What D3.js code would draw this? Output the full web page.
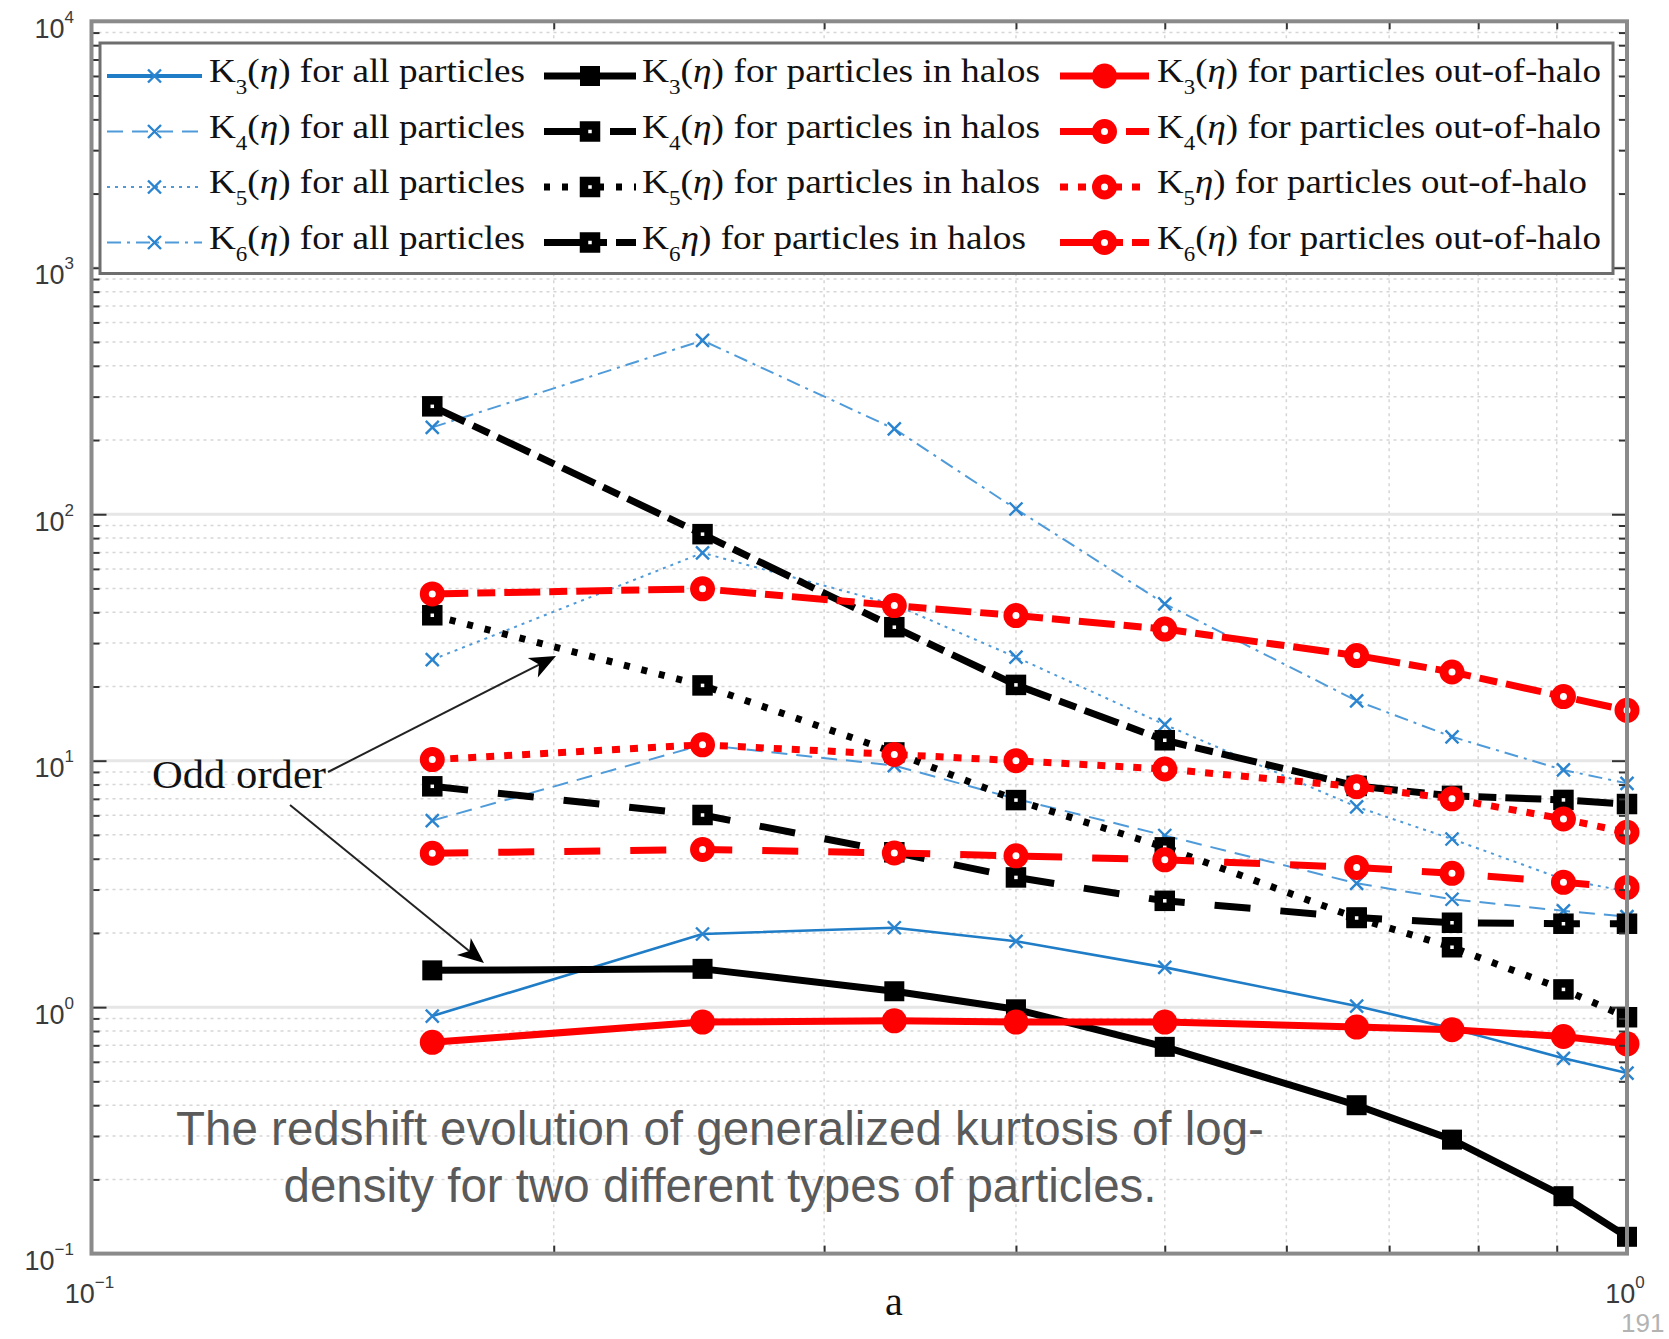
<!DOCTYPE html>
<html>
<head>
<meta charset="utf-8">
<script src="https://cdn.jsdelivr.net/npm/d3@7"></script>
<style>
  html, body { margin: 0; padding: 0; background: #fff; }
  svg { display: block; }
</style>
</head>
<body>
<svg id="chart" width="1669" height="1339"></svg>
<script>
// scale factor a at which each kurtosis value was measured
const aValues = [0.1667, 0.25, 0.3333, 0.4, 0.5, 0.6667, 0.7692, 0.9091, 1.0];

// all particles
const allK3 = [0.92, 1.98, 2.10, 1.85, 1.45, 1.01, 0.82, 0.62, 0.54];
const allK4 = [5.71, 11.6, 9.55, 7.0, 4.97, 3.18, 2.74, 2.46, 2.33];
const allK5 = [25.7, 69.7, 43.0, 26.3, 14.0, 6.5, 4.81, 3.3, 2.95];
const allK6 = [225, 507, 222, 105, 43.3, 17.5, 12.5, 9.17, 8.09];

// particles in halos
const haloK3 = [1.41, 1.43, 1.16, 0.98, 0.69, 0.40, 0.29, 0.171, 0.117];
const haloK4 = [7.87, 6.02, 4.25, 3.36, 2.70, 2.31, 2.20, 2.18, 2.18];
const haloK5 = [38.9, 20.2, 10.8, 6.92, 4.45, 2.30, 1.75, 1.18, 0.91];
const haloK6 = [274, 83.0, 34.8, 20.3, 12.1, 7.9, 7.2, 6.93, 6.67];

// particles out of halos
const outK3 = [0.72, 0.87, 0.88, 0.87, 0.87, 0.83, 0.81, 0.76, 0.71];
const outK4 = [4.21, 4.36, 4.22, 4.11, 3.96, 3.69, 3.49, 3.21, 3.06];
const outK5 = [10.1, 11.6, 10.6, 10.0, 9.25, 7.84, 7.0, 5.80, 5.12];
const outK6 = [47.5, 49.8, 42.6, 38.8, 34.2, 26.7, 22.9, 18.2, 16.0];

// axis tick labels (exponents of ten)
const yTickExponents = ["-1", "0", "1", "2", "3", "4"];
const xTickExponents = ["-1", "0"];

const legendLabels = {
  all: [" for all particles", " for all particles", " for all particles", " for all particles"],
  halo: [" for particles in halos", " for particles in halos", " for particles in halos", " for particles in halos"],
  out: [" for particles out-of-halo", " for particles out-of-halo", " for particles out-of-halo", " for particles out-of-halo"]
};
const captionLines = [
  "The redshift evolution of generalized kurtosis of log-",
  "density for two different types of particles."
];
const annotationText = "Odd order";
const xLabelText = "a";
const pageNumber = "191";

// ---------------------------------------------------------------
const svg = d3.select("#chart");
const plot = { left: 91.5, right: 1627, top: 21.3, bottom: 1253.6 };

const x = d3.scaleLog().domain([0.1, 1]).range([plot.left, plot.right]);
const y = d3.scaleLog().domain([0.1, 1e4]).range([plot.bottom, plot.top]);

const BLUE_DARK = "#1f7cc6";
const BLUE = "#4f9bd9";
const RED = "#ff0000";
const BLACK = "#000000";

// line styles per order: solid, dashed, dotted, dash-dot
const series = [
  { group: "all", order: 3, values: allK3, color: BLUE_DARK, width: 2.6, dash: null, marker: "x" },
  { group: "all", order: 4, values: allK4, color: BLUE, width: 2, dash: "16,9", marker: "x" },
  { group: "all", order: 5, values: allK5, color: BLUE, width: 2, dash: "3,5", marker: "x" },
  { group: "all", order: 6, values: allK6, color: BLUE, width: 2, dash: "14,6,3,6", marker: "x" },
  { group: "halo", order: 3, values: haloK3, color: BLACK, width: 7, dash: null, marker: "square", filled: true },
  { group: "halo", order: 4, values: haloK4, color: BLACK, width: 7, dash: "36,30", marker: "square" },
  { group: "halo", order: 5, values: haloK5, color: BLACK, width: 7, dash: "6,12", marker: "square" },
  { group: "halo", order: 6, values: haloK6, color: BLACK, width: 7, dash: "36,9,18,9", marker: "square" },
  { group: "out", order: 3, values: outK3, color: RED, width: 7, dash: null, marker: "circle", filled: true },
  { group: "out", order: 4, values: outK4, color: RED, width: 7, dash: "36,30", marker: "circle" },
  { group: "out", order: 5, values: outK5, color: RED, width: 7, dash: "8,10", marker: "circle" },
  { group: "out", order: 6, values: outK6, color: RED, width: 7, dash: "36,9,18,9", marker: "circle" }
];

// ---------------- grid ----------------
const grid = svg.append("g");
const yMinor = [];
for (let e = -1; e < 4; e++) for (let m = 2; m <= 9; m++) yMinor.push(m * Math.pow(10, e));
const yMajor = [1, 10, 100, 1000];
const xMinor = [0.2, 0.3, 0.4, 0.5, 0.6, 0.7, 0.8, 0.9];

grid.selectAll(".ym").data(yMinor).join("line")
  .attr("x1", plot.left).attr("x2", plot.right)
  .attr("y1", d => y(d)).attr("y2", d => y(d))
  .attr("stroke", "#d6d6d6").attr("stroke-width", 1.5).attr("stroke-dasharray", "3,4");
grid.selectAll(".xm").data(xMinor).join("line")
  .attr("x1", d => x(d)).attr("x2", d => x(d))
  .attr("y1", plot.top).attr("y2", plot.bottom)
  .attr("stroke", "#d6d6d6").attr("stroke-width", 1.5).attr("stroke-dasharray", "3,4");
grid.selectAll(".yM").data(yMajor).join("line")
  .attr("x1", plot.left).attr("x2", plot.right)
  .attr("y1", d => y(d)).attr("y2", d => y(d))
  .attr("stroke", "#e6e6e6").attr("stroke-width", 3);

// ---------------- series ----------------
const line = d3.line().x((d, i) => x(aValues[i])).y(d => y(d));

function drawMarker(g, s, cx, cy) {
  if (s.marker === "x") {
    const r = 6.5;
    g.append("path")
      .attr("d", `M${cx - r},${cy - r}L${cx + r},${cy + r}M${cx - r},${cy + r}L${cx + r},${cy - r}`)
      .attr("stroke", "#2a84cf").attr("stroke-width", 2.4).attr("fill", "none");
  } else if (s.marker === "square") {
    if (s.filled) {
      g.append("rect").attr("x", cx - 10).attr("y", cy - 10).attr("width", 20).attr("height", 20)
        .attr("fill", BLACK);
    } else {
      g.append("rect").attr("x", cx - 6).attr("y", cy - 6).attr("width", 12).attr("height", 12)
        .attr("fill", "#fff").attr("stroke", BLACK).attr("stroke-width", 8.5);
    }
  } else {
    if (s.filled) {
      g.append("circle").attr("cx", cx).attr("cy", cy).attr("r", 12.5).attr("fill", RED);
    } else {
      g.append("circle").attr("cx", cx).attr("cy", cy).attr("r", 8)
        .attr("fill", "#fff").attr("stroke", RED).attr("stroke-width", 9);
    }
  }
}

const seriesLayer = svg.append("g");
series.forEach(s => {
  const g = seriesLayer.append("g");
  g.append("path")
    .attr("d", line(s.values))
    .attr("fill", "none")
    .attr("stroke", s.color)
    .attr("stroke-width", s.width)
    .attr("stroke-dasharray", s.dash)
    .attr("stroke-linejoin", "round");
  s.values.forEach((v, i) => drawMarker(g, s, x(aValues[i]), y(v)));
});

// ---------------- axes box and ticks ----------------
const axes = svg.append("g");
function tickAxis(axisFn, tr, scale, vals, size) {
  axes.append("g").attr("transform", tr)
    .call(axisFn(scale).tickValues(vals).tickSize(size).tickSizeOuter(0).tickFormat(""))
    .call(g => g.select(".domain").remove())
    .call(g => g.selectAll(".tick line").attr("stroke", "#333").attr("stroke-width", 2));
}
tickAxis(d3.axisLeft, `translate(${plot.left},0)`, y, yMinor, -8);
tickAxis(d3.axisLeft, `translate(${plot.left},0)`, y, yMajor, -15);
tickAxis(d3.axisRight, `translate(${plot.right},0)`, y, yMinor, -8);
tickAxis(d3.axisRight, `translate(${plot.right},0)`, y, yMajor, -15);
tickAxis(d3.axisBottom, `translate(0,${plot.bottom})`, x, xMinor, -8);
tickAxis(d3.axisTop, `translate(0,${plot.top})`, x, xMinor, -8);

axes.append("rect")
  .attr("x", plot.left).attr("y", plot.top)
  .attr("width", plot.right - plot.left).attr("height", plot.bottom - plot.top)
  .attr("fill", "none").attr("stroke", "#8a8a8a").attr("stroke-width", 4);

// y tick labels
const labelFont = "'Liberation Sans', Arial, sans-serif";
yTickExponents.forEach(e => {
  const v = Math.pow(10, +e);
  const t = svg.append("text")
    .attr("x", 74).attr("y", y(v) + 16.5)
    .attr("text-anchor", "end")
    .attr("font-family", labelFont).attr("font-size", 27).attr("fill", "#3a3a3a");
  t.append("tspan").text("10");
  t.append("tspan").attr("font-size", 17).attr("dy", -15).text(e.replace("-", "\u2212"));
});
// x tick labels
xTickExponents.forEach(e => {
  const v = Math.pow(10, +e);
  const t = svg.append("text")
    .attr("x", x(v) - 2).attr("y", 1303)
    .attr("text-anchor", "middle")
    .attr("font-family", labelFont).attr("font-size", 27).attr("fill", "#3a3a3a");
  t.append("tspan").text("10");
  t.append("tspan").attr("font-size", 17).attr("dy", -15).text(e.replace("-", "\u2212"));
});
// x axis label
svg.append("text")
  .attr("x", 894).attr("y", 1315)
  .attr("text-anchor", "middle")
  .attr("font-family", "'Liberation Serif', 'Times New Roman', serif")
  .attr("font-size", 40).attr("fill", "#111").text(xLabelText);

// ---------------- legend ----------------
const legend = svg.append("g");
const lg = { x0: 100, y0: 43, x1: 1613, y1: 273.5 };
legend.append("rect")
  .attr("x", lg.x0).attr("y", lg.y0).attr("width", lg.x1 - lg.x0).attr("height", lg.y1 - lg.y0)
  .attr("fill", "#fff").attr("stroke", "#6e6e6e").attr("stroke-width", 3);

const columns = {
  all: { lineX0: 107, lineX1: 202, textX: 209, textLen: 316 },
  halo: { lineX0: 544, lineX1: 636, textX: 642, textLen: 398 },
  out: { lineX0: 1060, lineX1: 1149, textX: 1157, textLen: 444 }
};
const rowLineY = [76, 131.5, 187, 242.5];
// entries whose label is printed without the opening bracket
const noOpenParen = { "halo6": true, "out5": true };

series.forEach(s => {
  const c = columns[s.group];
  const row = s.order - 3;
  const ly = rowLineY[row];
  const g = legend.append("g");
  g.append("line")
    .attr("x1", c.lineX0).attr("x2", c.lineX1).attr("y1", ly).attr("y2", ly)
    .attr("stroke", s.color).attr("stroke-width", s.group === "all" && s.order === 3 ? 4 : s.width)
    .attr("stroke-dasharray", s.dash);
  drawMarker(g, s, (c.lineX0 + c.lineX1) / 2, ly);

  const missing = noOpenParen[s.group + s.order];
  const t = g.append("text")
    .attr("x", c.textX).attr("y", ly + 6)
    .attr("font-family", "'Liberation Serif', 'Times New Roman', serif")
    .attr("font-size", 34).attr("fill", "#111")
    .attr("textLength", missing ? c.textLen - 14 : c.textLen)
    .attr("lengthAdjust", "spacingAndGlyphs");
  t.append("tspan").text("K");
  t.append("tspan").attr("font-size", 21).attr("dy", 12).text(String(s.order));
  if (!missing) {
    t.append("tspan").attr("dy", -12).text("(");
    t.append("tspan").attr("font-style", "italic").text("\u03B7");
  } else {
    t.append("tspan").attr("dy", -12).attr("font-style", "italic").text("\u03B7");
  }
  t.append("tspan").text(")" + legendLabels[s.group][row]);
});

// ---------------- annotation ----------------
const ann = svg.append("g");
ann.append("text")
  .attr("x", 152).attr("y", 788)
  .attr("font-family", "'Liberation Serif', 'Times New Roman', serif")
  .attr("font-size", 40).attr("fill", "#111")
  .attr("textLength", 174).attr("lengthAdjust", "spacingAndGlyphs")
  .text(annotationText);

function arrow(x0, y0, x1, y1) {
  const ang = Math.atan2(y1 - y0, x1 - x0);
  const L = 26, W = 11, N = 7;
  const ux = Math.cos(ang), uy = Math.sin(ang);
  const bx = x1 - ux * L, by = y1 - uy * L;
  ann.append("line")
    .attr("x1", x0).attr("y1", y0).attr("x2", x1 - ux * 10).attr("y2", y1 - uy * 10)
    .attr("stroke", "#222").attr("stroke-width", 2);
  ann.append("path")
    .attr("d", `M${x1},${y1}L${bx - uy * W},${by + ux * W}L${x1 - ux * (L - N)},${y1 - uy * (L - N)}L${bx + uy * W},${by - ux * W}Z`)
    .attr("fill", "#000");
}
arrow(328, 772, 556, 656);
arrow(290, 805, 484, 963);

// ---------------- caption ----------------
captionLines.forEach((s, i) => {
  svg.append("text")
    .attr("x", 720).attr("y", 1145 + i * 57)
    .attr("text-anchor", "middle")
    .attr("font-family", "'Liberation Sans', Arial, sans-serif")
    .attr("font-size", 47.5).attr("fill", "#5a5a5a").text(s);
});

svg.append("text")
  .attr("x", 1621).attr("y", 1332)
  .attr("font-family", "'Liberation Sans', Arial, sans-serif")
  .attr("font-size", 26).attr("fill", "#b3b3b3").text(pageNumber);
</script>
</body>
</html>
